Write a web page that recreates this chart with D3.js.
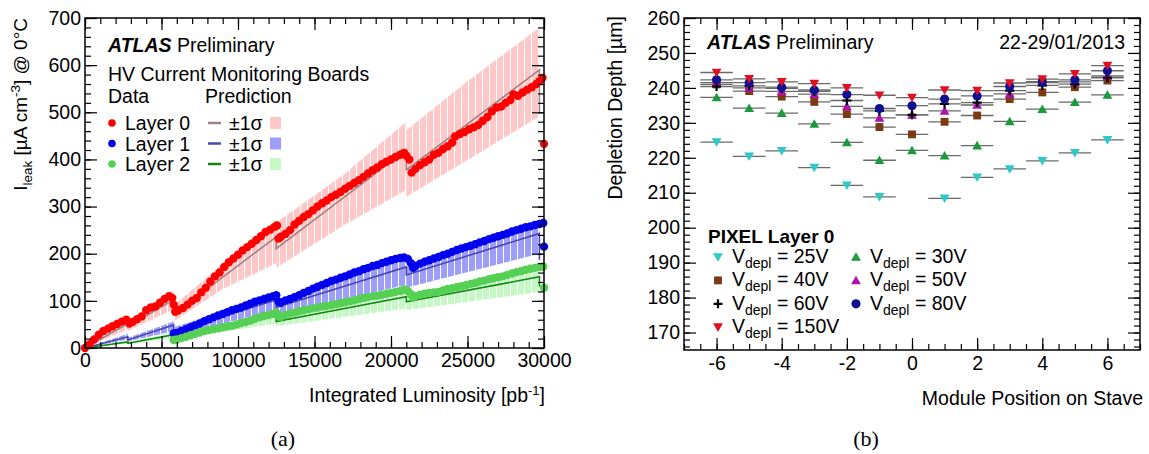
<!DOCTYPE html>
<html lang="en">
<head>
<meta charset="utf-8">
<script src="https://d3js.org/d3.v7.min.js"></script>
<style>
  body { margin: 0; background: #fff; }
  text { font-family: "Liberation Sans", Arial, Helvetica, sans-serif; fill: #000; }
</style>
</head>
<body>
<script>

// ---------- panel (a): leakage current vs integrated luminosity ----------
// data points [luminosity pb^-1, I_leak uA/cm3]
const layer0Data = [[0,0],[300,8],[600,18],[900,28],[1200,36],[1500,41],[1800,46],[2100,51],[2400,56],[2700,60],[2900,52],[3100,55],[3400,61],[3700,67],[4000,80],[4300,86],[4600,88],[4900,96],[5200,104],[5500,110],[5700,106],[5800,92],[5900,77],[6100,80],[6400,85],[6700,92],[7000,100],[7300,106],[7600,118],[7900,128],[8200,141],[8500,152],[8800,160],[9100,172],[9400,182],[9700,190],[10000,198],[10300,207],[10600,214],[10900,221],[11200,229],[11500,237],[11800,246],[12100,251],[12400,257],[12550,260],[12650,232],[12800,236],[13100,242],[13400,250],[13700,262],[14000,270],[14300,278],[14600,284],[14900,292],[15200,300],[15500,307],[15800,313],[16100,320],[16400,325],[16700,331],[17000,338],[17300,344],[17600,350],[17900,356],[18200,363],[18500,370],[18800,377],[19100,383],[19400,390],[19700,395],[20000,400],[20300,405],[20600,410],[20850,414],[21000,408],[21200,400],[21350,372],[21600,380],[21900,388],[22200,394],[22500,400],[22800,410],[23100,414],[23400,422],[23700,428],[24000,436],[24200,449],[24500,454],[24800,458],[25100,464],[25400,468],[25700,473],[26000,482],[26300,490],[26600,502],[26900,510],[27200,512],[27500,520],[27800,526],[28000,538],[28300,535],[28600,542],[28900,548],[29200,553],[29500,560],[29700,566],[29900,573],[30000,433]];
const layer1Data = [[5800,31],[6000,32],[6300,36],[6600,40],[6900,44],[7200,48],[7500,52],[7800,57],[8100,61],[8400,65],[8700,69],[9000,72],[9300,76],[9600,80],[9900,83],[10200,86],[10500,90],[10800,94],[11100,98],[11400,101],[11700,104],[12000,107],[12300,110],[12500,112],[12650,98],[12800,96],[13100,101],[13400,104],[13700,108],[14000,112],[14300,117],[14600,121],[14900,126],[15200,130],[15500,134],[15800,138],[16100,142],[16400,145],[16700,149],[17000,152],[17300,156],[17600,160],[17900,163],[18200,167],[18500,170],[18800,174],[19100,176],[19400,180],[19700,183],[20000,186],[20300,189],[20600,191],[20850,192],[21100,189],[21300,180],[21450,170],[21600,174],[21900,179],[22200,183],[22500,186],[22800,190],[23100,193],[23400,197],[23700,200],[24000,204],[24300,208],[24600,211],[24900,214],[25200,217],[25500,220],[25800,224],[26100,227],[26400,231],[26700,234],[27000,237],[27300,240],[27600,243],[27900,247],[28200,250],[28500,253],[28800,256],[29100,258],[29400,261],[29700,263],[29950,265],[30000,215]];
const layer2Data = [[5800,17],[6000,18],[6300,21],[6600,24],[6900,27],[7200,30],[7500,33],[7800,36],[8100,38],[8400,40],[8700,42],[9000,44],[9300,46],[9600,47],[9900,50],[10200,53],[10500,55],[10800,58],[11100,62],[11400,65],[11700,68],[12000,70],[12300,72],[12500,75],[12650,68],[12800,66],[13100,70],[13400,73],[13700,75],[14000,78],[14300,80],[14600,82],[14900,84],[15200,86],[15500,88],[15800,89],[16100,91],[16400,93],[16700,95],[17000,97],[17300,99],[17600,101],[17900,104],[18200,106],[18500,108],[18800,110],[19100,111],[19400,113],[19700,115],[20000,117],[20300,119],[20600,121],[20850,124],[21100,121],[21300,114],[21450,107],[21600,110],[21900,113],[22200,115],[22500,117],[22800,118],[23100,119],[23400,122],[23700,125],[24000,127],[24300,129],[24600,131],[24900,133],[25200,136],[25500,138],[25800,141],[26100,143],[26400,146],[26700,148],[27000,150],[27300,152],[27600,155],[27900,158],[28200,161],[28500,163],[28800,166],[29100,168],[29400,170],[29700,172],[29950,173],[30000,128]];

// prediction central values
const layer0Pred = [[0,0],[2800,52],[2800,46],[5800,102],[5800,72],[12500,236],[12500,211],[21000,420],[21000,378],[29700,590],[29700,498]];
const layer1Pred = [[0,0],[2800,24],[2800,17],[5800,49],[5800,35],[12500,102],[12500,86],[21000,172],[21000,155],[29700,243],[29700,187]];
const layer2Pred = [[0,0],[2800,13],[2800,10],[5800,28],[5800,23],[12500,71],[12500,56],[21000,109],[21000,98],[29700,151],[29700,130]];

// prediction +-1 sigma bands, one list per period between annealings: [lumi, low, high]
const layer0Band = [
  [[0,0,0],[2800,40,64]],
  [[2800,36,56],[5800,82,122]],
  [[5800,56,90],[9000,125,178],[12500,180,272]],
  [[12500,170,266],[17000,262,370],[21000,335,480]],
  [[21000,321,462],[25000,399,566],[29700,491,680]]
];
const layer1Band = [
  [[0,0,0],[2800,18,30]],
  [[2800,14,22],[5800,36,56]],
  [[5800,26,44],[12500,80,114]],
  [[12500,70,102],[21000,134,194]],
  [[21000,128,172],[29700,200,272]]
];
const layer2Band = [
  [[0,0,0],[2800,10,16]],
  [[2800,8,12],[5800,22,34]],
  [[5800,18,28],[12500,52,78]],
  [[12500,46,68],[21000,84,120]],
  [[21000,80,110],[29700,119,165]]
];

const lumiMajor = [0, 5000, 10000, 15000, 20000, 25000, 30000];
const ileakMajor = [0, 100, 200, 300, 400, 500, 600, 700];

// ---------- panel (b): depletion depth vs module position ----------
const positions = [-6, -5, -4, -3, -2, -1, 0, 1, 2, 3, 4, 5, 6];
const depth25V  = [224.5, 220.4, 222.0, 217.2, 212.1, 208.8, null, 208.4, 214.4, 216.8, 219.1, 221.4, 225.1];
const depth30V  = [237.3, 234.2, 232.8, 229.7, 224.4, 219.3, 222.1, 220.6, 223.5, 230.4, 233.9, 235.9, 238.0];
const depth40V  = [241.0, 239.1, 237.5, 236.0, 232.5, 228.8, 226.7, 230.3, 232.1, 236.8, 238.7, 240.2, 242.1];
const depth50V  = [241.5, 240.0, 239.0, 238.2, 234.7, 231.4, 232.3, 233.4, 235.1, 238.3, 241.5, 241.7, 243.4];
const depth60V  = [240.4, 240.6, 239.9, 239.0, 236.4, 233.4, 232.3, 235.4, 235.8, 239.2, 240.7, 241.1, 242.9];
const depth80V  = [242.3, 241.5, 240.2, 239.4, 238.1, 234.1, 234.9, 236.8, 237.7, 240.4, 241.8, 242.3, 244.9];
const depth150V = [244.4, 242.6, 241.7, 241.2, 240.0, 237.9, 237.2, 239.4, 239.2, 241.4, 242.5, 244.0, 246.4];

const posMajor = [-6, -4, -2, 0, 2, 4, 6];
const depthMajor = [170, 180, 190, 200, 210, 220, 230, 240, 250, 260];

let w = 1149, h = 454;
let svg = d3.select("body").append("svg").attr("width", w).attr("height", h);

// inward ROOT-style ticks on all four sides
function frame(g, x, y, xMaj, xMin, yMaj, yMin, xFmt, yFmt, xPad, yPad) {
  let [x0, x1] = x.range(), [y0, y1] = y.range();
  let put = (axis, tx, ty) => {
    let a = g.append("g").attr("transform", `translate(${tx},${ty})`).call(axis);
    a.select(".domain").remove();
    a.selectAll("line").attr("stroke", "#000").attr("stroke-width", 1.2);
    a.selectAll("text").attr("font-size", 19.5).attr("font-family", '"Liberation Sans", Arial, sans-serif').attr("fill", "#000");
  };
  put(d3.axisBottom(x).tickValues(xMaj).tickSize(-12).tickPadding(xPad).tickFormat(xFmt), 0, y0);
  put(d3.axisBottom(x).tickValues(xMin).tickSize(-6).tickFormat(""), 0, y0);
  put(d3.axisTop(x).tickValues(xMaj).tickSize(-12).tickFormat(""), 0, y1);
  put(d3.axisTop(x).tickValues(xMin).tickSize(-6).tickFormat(""), 0, y1);
  put(d3.axisLeft(y).tickValues(yMaj).tickSize(-12).tickPadding(yPad).tickFormat(yFmt), x0, 0);
  put(d3.axisLeft(y).tickValues(yMin).tickSize(-6).tickFormat(""), x0, 0);
  put(d3.axisRight(y).tickValues(yMaj).tickSize(-12).tickFormat(""), x1, 0);
  put(d3.axisRight(y).tickValues(yMin).tickSize(-6).tickFormat(""), x1, 0);
  g.append("rect").attr("x", x0).attr("y", y1).attr("width", x1 - x0).attr("height", y0 - y1)
    .attr("fill", "none").attr("stroke", "#000").attr("stroke-width", 1.5);
}

// ===== panel (a) =====
let xL = d3.scaleLinear().domain([0, 30000]).range([85, 544]);
let yL = d3.scaleLinear().domain([0, 700]).range([348, 18]);
let gA = svg.append("g");
let defs = svg.append("defs");

defs.append("clipPath").attr("id", "clipA").append("rect")
  .attr("x", 85).attr("y", 18).attr("width", 459).attr("height", 330);
let plotA = gA.append("g").attr("clip-path", "url(#clipA)");

let layers = [
  {data: layer0Data, pred: layer0Pred, band: layer0Band, dot: "#ff0000", line: "#a08282", fill: "#ffc8c8", name: "Layer 0"},
  {data: layer1Data, pred: layer1Pred, band: layer1Band, dot: "#0000ee", line: "#4848b0", fill: "#9d9dfb", name: "Layer 1"},
  {data: layer2Data, pred: layer2Pred, band: layer2Band, dot: "#55d055", line: "#118811", fill: "#c6f8c6", name: "Layer 2"}
];

// striped fill, as the band is drawn run by run
layers.forEach((l, i) => {
  let p = defs.append("pattern").attr("id", "band" + i).attr("patternUnits", "userSpaceOnUse")
    .attr("width", 7).attr("height", 10);
  p.append("rect").attr("width", 6).attr("height", 10).attr("fill", l.fill);
  p.append("rect").attr("x", 6).attr("width", 1).attr("height", 10).attr("fill", "#fff").attr("opacity", 0.6);
});

let area = d3.area().x(d => xL(d[0])).y0(d => yL(d[1])).y1(d => yL(d[2]));
let line = d3.line().x(d => xL(d[0])).y(d => yL(d[1]));

layers.forEach((l, i) => {
  plotA.selectAll(null).data(l.band).enter().append("path")
    .attr("d", area).attr("fill", `url(#band${i})`);
});
layers.forEach(l => {
  plotA.append("path").attr("d", line(l.pred)).attr("fill", "none")
    .attr("stroke", l.line).attr("stroke-width", 1.6);
});
layers.forEach(l => {
  gA.selectAll(null).data(l.data).enter().append("circle")
    .attr("cx", d => xL(d[0])).attr("cy", d => yL(d[1])).attr("r", 4.2).attr("fill", l.dot);
});

frame(gA, xL, yL, lumiMajor, d3.range(0, 30001, 1000), ileakMajor, d3.range(0, 701, 20),
  d => String(d), d => String(d), 5, 4);

// legend (a)
let lt = gA.append("text").attr("x", 108).attr("y", 52).attr("font-size", 19.5);
lt.append("tspan").attr("font-weight", "bold").attr("font-style", "italic").text("ATLAS");
lt.append("tspan").text(" Preliminary");
gA.append("text").attr("x", 108).attr("y", 81).attr("font-size", 19.5).text("HV Current Monitoring Boards");
gA.append("text").attr("x", 108).attr("y", 103).attr("font-size", 19.5).text("Data");
gA.append("text").attr("x", 205).attr("y", 103).attr("font-size", 19.5).text("Prediction");
layers.forEach((l, i) => {
  let cy = 123 + i * 20.5;
  gA.append("circle").attr("cx", 112).attr("cy", cy).attr("r", 3.8).attr("fill", l.dot);
  gA.append("text").attr("x", 125).attr("y", cy + 7).attr("font-size", 19.5).text(l.name);
  gA.append("line").attr("x1", 208).attr("x2", 221).attr("y1", cy).attr("y2", cy)
    .attr("stroke", l.line).attr("stroke-width", 2.5);
  gA.append("text").attr("x", 229).attr("y", cy + 7).attr("font-size", 19.5).text("±1σ");
  gA.append("rect").attr("x", 270).attr("y", cy - 6).attr("width", 11).attr("height", 12).attr("fill", l.fill);
});

// axis titles (a)
let xt = gA.append("text").attr("x", 545).attr("y", 402).attr("text-anchor", "end").attr("font-size", 19.5);
xt.append("tspan").text("Integrated Luminosity [pb");
xt.append("tspan").attr("font-size", 13).attr("dy", -7).text("-1");
xt.append("tspan").attr("dy", 7).text("]");

let yt = gA.append("text").attr("transform", "translate(27,18) rotate(-90)")
  .attr("text-anchor", "end").attr("font-size", 19);
yt.append("tspan").text("I");
yt.append("tspan").attr("font-size", 13.5).attr("dy", 5).text("leak");
yt.append("tspan").attr("dy", -5).text(" [µA cm");
yt.append("tspan").attr("font-size", 13.5).attr("dy", -7).text("-3");
yt.append("tspan").attr("dy", 7).text("] @ 0°C");

svg.append("text").attr("x", 283).attr("y", 446).attr("text-anchor", "middle")
  .attr("font-size", 22).style("font-family", '"Liberation Serif", "DejaVu Serif", serif').text("(a)");

// ===== panel (b) =====
let xR = d3.scaleLinear().domain([-7, 7]).range([684, 1140]);
let yR = d3.scaleLinear().domain([165, 260]).range([350, 18]);
let gB = svg.append("g");

let series = [
  {vals: depth25V,  label: "25V",  type: "down",   color: "#2ec8c8"},
  {vals: depth30V,  label: "30V",  type: "up",     color: "#1a9a3a"},
  {vals: depth40V,  label: "40V",  type: "square", color: "#7a3a12"},
  {vals: depth50V,  label: "50V",  type: "up",     color: "#b010b0"},
  {vals: depth60V,  label: "60V",  type: "plus",   color: "#000000"},
  {vals: depth80V,  label: "80V",  type: "circle", color: "#101090"},
  {vals: depth150V, label: "150V", type: "down",   color: "#e01020"}
];

function marker(g, type, cx, cy, color) {
  if (type === "plus") {
    g.append("path").attr("d", `M${cx - 4.5},${cy}H${cx + 4.5}M${cx},${cy - 4.5}V${cy + 4.5}`)
      .attr("stroke", color).attr("stroke-width", 2.2);
    return;
  }
  let sym = {down: d3.symbolTriangle, up: d3.symbolTriangle, square: d3.symbolSquare, circle: d3.symbolCircle}[type];
  let size = {down: 42, up: 42, square: 62, circle: 66}[type];
  let rot = type === "down" ? 180 : 0;
  let dy = type === "down" ? -1 : (type === "up" ? 1 : 0);
  g.append("path").attr("d", d3.symbol(sym, size)())
    .attr("transform", `translate(${cx},${cy + dy}) rotate(${rot})`).attr("fill", color);
}

// horizontal error bars (half module width)
series.forEach(s => {
  s.vals.forEach((v, i) => {
    if (v == null) return;
    gB.append("line").attr("x1", xR(positions[i] - 0.5)).attr("x2", xR(positions[i] + 0.5))
      .attr("y1", yR(v)).attr("y2", yR(v)).attr("stroke", "#6a6a6a").attr("stroke-width", 1.3);
  });
});
series.forEach(s => {
  s.vals.forEach((v, i) => {
    if (v == null) return;
    marker(gB, s.type, xR(positions[i]), yR(v), s.color);
  });
});

frame(gB, xR, yR, posMajor, d3.range(-7, 7.01, 0.5), depthMajor, d3.range(166, 261, 2),
  d => String(d), d => String(d), 6, 4);

// legend (b)
let rt = gB.append("text").attr("x", 707).attr("y", 49).attr("font-size", 19.5);
rt.append("tspan").attr("font-weight", "bold").attr("font-style", "italic").text("ATLAS");
rt.append("tspan").text(" Preliminary");
gB.append("text").attr("x", 1125).attr("y", 49).attr("text-anchor", "end").attr("font-size", 19.5).text("22-29/01/2013");
gB.append("text").attr("x", 708).attr("y", 243).attr("font-size", 19).attr("font-weight", "bold").text("PIXEL Layer 0");

let legendPos = [[0, 0], [1, 0], [0, 1], [1, 1], [0, 2], [1, 2], [0, 3]];
series.forEach((s, i) => {
  let [col, row] = legendPos[i];
  let mx = col ? 856 : 718, base = 263 + row * 23.4;
  marker(gB, s.type, mx, base - 6, s.color);
  let t = gB.append("text").attr("x", mx + 14).attr("y", base).attr("font-size", 19.5);
  t.append("tspan").text("V");
  t.append("tspan").attr("font-size", 14).attr("dy", 5).text("depl");
  t.append("tspan").attr("dy", -5).text(" = " + s.label);
});

gB.append("text").attr("x", 1143).attr("y", 405).attr("text-anchor", "end").attr("font-size", 19.5)
  .text("Module Position on Stave");
gB.append("text").attr("transform", "translate(622,16) rotate(-90)").attr("text-anchor", "end")
  .attr("font-size", 19.5).text("Depletion Depth [µm]");

svg.append("text").attr("x", 866).attr("y", 446).attr("text-anchor", "middle")
  .attr("font-size", 22).style("font-family", '"Liberation Serif", "DejaVu Serif", serif').text("(b)");

</script>
</body>
</html>
